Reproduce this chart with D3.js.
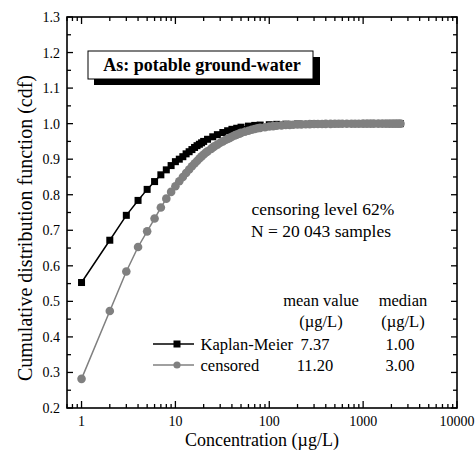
<!DOCTYPE html>
<html>
<head>
<meta charset="utf-8">
<script src="https://cdn.jsdelivr.net/npm/d3@7"></script>
<style>
  body { margin: 0; background: #fff; }
  text { font-family: "Liberation Serif", "Times New Roman", serif; }
</style>
</head>
<body>
<svg id="chart" width="475" height="453"></svg>
<script>
// ---- data ----
const kmConc = [1, 2, 3, 4, 5, 6, 7, 8, 9, 10, 11, 12, 13, 14, 15, 16, 17, 18, 19, 20,
  22, 25, 28, 32, 36, 40, 45, 50, 60, 70, 80, 100, 120, 150, 200, 300, 500, 1000, 2000, 2500];
const kmCdf = [0.553, 0.672, 0.742, 0.784, 0.815, 0.837, 0.856, 0.870, 0.882, 0.893, 0.900, 0.907,
  0.915, 0.921, 0.927, 0.933, 0.938, 0.942, 0.946, 0.950,
  0.956, 0.963, 0.969, 0.975, 0.980, 0.984, 0.987, 0.990, 0.993, 0.995, 0.996, 0.997, 0.998,
  0.9985, 0.999, 0.9995, 0.9997, 0.9999, 1.0, 1.0];

const censConc = [1, 2, 3, 4, 5, 6, 7, 8, 9, 10, 11, 12, 13, 14, 15, 16, 17, 18, 19, 20,
  21, 22, 24, 25, 26, 28, 30, 32, 34, 36, 38, 40, 43, 45, 48, 50, 55, 60, 65, 70, 75, 80, 90,
  100, 110, 120, 135, 150, 165, 180, 200, 220, 245, 270, 300, 330, 365, 400, 450, 500, 550,
  600, 670, 750, 820, 900, 1000, 1100, 1200, 1300, 1450, 1600, 1750, 1900, 2050, 2200, 2350, 2500];
const censCdf = [0.282, 0.473, 0.584, 0.653, 0.697, 0.733, 0.764, 0.789, 0.808, 0.824, 0.838, 0.850,
  0.861, 0.871, 0.880, 0.888, 0.895, 0.902, 0.908, 0.913,
  0.918, 0.922, 0.929, 0.933, 0.936, 0.941, 0.946, 0.950, 0.954, 0.957, 0.960, 0.963, 0.967,
  0.969, 0.972, 0.974, 0.977, 0.980, 0.983, 0.985, 0.987, 0.988, 0.990,
  0.992, 0.993, 0.994, 0.995, 0.996, 0.9965, 0.997, 0.9975, 0.998, 0.9983, 0.9985, 0.9988,
  0.999, 0.9991, 0.9993, 0.9994, 0.9995, 0.9996, 0.9996, 0.9997, 0.9997, 0.9998, 0.9998,
  0.9999, 0.9999, 0.9999, 0.9999, 1.0, 1.0, 1.0, 1.0, 1.0, 1.0, 1.0, 1.0];

const xTicks = [1, 10, 100, 1000, 10000];
const yTicks = [0.2, 0.3, 0.4, 0.5, 0.6, 0.7, 0.8, 0.9, 1.0, 1.1, 1.2, 1.3];

const tableHead = ["mean value", "median"];
const tableUnit = ["(µg/L)", "(µg/L)"];
const seriesNames = ["Kaplan-Meier", "censored"];
const meanVals = ["7.37", "11.20"];
const medianVals = ["1.00", "3.00"];

// ---- layout ----
const svg = d3.select("#chart");
const m = { left: 67, right: 457, top: 17, bottom: 408 };

const x = d3.scaleLog().domain([0.7, 10000]).range([m.left, m.right]);
const y = d3.scaleLinear().domain([0.2, 1.3]).range([m.bottom, m.top]);

// minor ticks
const xMinor = [];
[0.1, 1, 10, 100, 1000].forEach(dec => {
  for (let k = 2; k <= 9; k++) {
    const v = dec * k;
    if (v >= 0.7 && v <= 10000) xMinor.push(v);
  }
});
const yMinor = d3.range(0.25, 1.3, 0.1);

const g = svg.append("g");

// frame
g.append("rect")
  .attr("x", m.left).attr("y", m.top)
  .attr("width", m.right - m.left).attr("height", m.bottom - m.top)
  .attr("fill", "none").attr("stroke", "#000").attr("stroke-width", 1.6);

function tickLines(vals, len, axis) {
  vals.forEach(v => {
    if (axis === "x") {
      const px = x(v);
      g.append("line").attr("x1", px).attr("x2", px).attr("y1", m.bottom).attr("y2", m.bottom - len)
        .attr("stroke", "#000").attr("stroke-width", 1.3);
      g.append("line").attr("x1", px).attr("x2", px).attr("y1", m.top).attr("y2", m.top + len)
        .attr("stroke", "#000").attr("stroke-width", 1.3);
    } else {
      const py = y(v);
      g.append("line").attr("y1", py).attr("y2", py).attr("x1", m.left).attr("x2", m.left + len)
        .attr("stroke", "#000").attr("stroke-width", 1.3);
      g.append("line").attr("y1", py).attr("y2", py).attr("x1", m.right).attr("x2", m.right - len)
        .attr("stroke", "#000").attr("stroke-width", 1.3);
    }
  });
}
tickLines(xTicks, 7, "x");
tickLines(xMinor, 4, "x");
tickLines(yTicks, 6, "y");
tickLines(yMinor, 4, "y");

// tick labels
g.selectAll(".xl").data(xTicks).join("text")
  .attr("x", d => x(d)).attr("y", m.bottom + 18)
  .attr("text-anchor", "middle").attr("font-size", 14).text(d => d);
g.selectAll(".yl").data(yTicks).join("text")
  .attr("x", m.left - 7).attr("y", d => y(d) + 5)
  .attr("text-anchor", "end").attr("font-size", 14).text(d => d.toFixed(1));

// axis titles
svg.append("text").attr("x", 262).attr("y", 446).attr("text-anchor", "middle")
  .attr("font-size", 18).text("Concentration (µg/L)");
svg.append("text").attr("transform", "translate(32,228) rotate(-90)").attr("text-anchor", "middle")
  .attr("font-size", 20).text("Cumulative distribution function (cdf)");

// series
const km = kmConc.map((c, i) => [c, kmCdf[i]]);
const cens = censConc.map((c, i) => [c, censCdf[i]]);
const line = d3.line().x(d => x(d[0])).y(d => y(d[1]));

g.append("path").datum(km).attr("d", line).attr("fill", "none")
  .attr("stroke", "#000").attr("stroke-width", 1.5);
g.selectAll(".sq").data(km).join("rect")
  .attr("x", d => x(d[0]) - 3.5).attr("y", d => y(d[1]) - 3.5)
  .attr("width", 7).attr("height", 7).attr("fill", "#000");

g.append("path").datum(cens).attr("d", line).attr("fill", "none")
  .attr("stroke", "#808080").attr("stroke-width", 1.5);
g.selectAll(".ci").data(cens).join("circle")
  .attr("cx", d => x(d[0])).attr("cy", d => y(d[1])).attr("r", 4.3)
  .attr("fill", "#808080");

// title box with shadow
svg.append("rect").attr("x", 94).attr("y", 57).attr("width", 226).attr("height", 28).attr("fill", "#000");
svg.append("rect").attr("x", 88).attr("y", 51).attr("width", 225).attr("height", 28)
  .attr("fill", "#fff").attr("stroke", "#000").attr("stroke-width", 1);
svg.append("text").attr("x", 202).attr("y", 71).attr("text-anchor", "middle")
  .attr("font-size", 18).attr("font-weight", "bold").text("As: potable ground-water");

// annotations
svg.append("text").attr("x", 323).attr("y", 215).attr("text-anchor", "middle")
  .attr("font-size", 17.5).text("censoring level 62%");
svg.append("text").attr("x", 321).attr("y", 237).attr("text-anchor", "middle")
  .attr("font-size", 17.5).text("N = 20 043 samples");

// table
const headX = [321, 403];
const valX = [315, 400];
tableHead.forEach((t, i) => svg.append("text").attr("x", headX[i]).attr("y", 305.5)
  .attr("text-anchor", "middle").attr("font-size", 16.5).text(t));
tableUnit.forEach((t, i) => svg.append("text").attr("x", headX[i]).attr("y", 327)
  .attr("text-anchor", "middle").attr("font-size", 16.5).text(t));
const rowY = [344, 365];
seriesNames.forEach((name, i) => {
  svg.append("text").attr("x", 200.5).attr("y", rowY[i] + 5.5).attr("font-size", 16.5).text(name);
  svg.append("text").attr("x", valX[0]).attr("y", rowY[i] + 5.5).attr("text-anchor", "middle")
    .attr("font-size", 16.5).text(meanVals[i]);
  svg.append("text").attr("x", valX[1]).attr("y", rowY[i] + 5.5).attr("text-anchor", "middle")
    .attr("font-size", 16.5).text(medianVals[i]);
});

// legend symbols
const lg = svg.append("g");
lg.append("line").attr("x1", 153).attr("x2", 194).attr("y1", rowY[0]).attr("y2", rowY[0])
  .attr("stroke", "#000").attr("stroke-width", 1.6);
lg.append("rect").attr("x", 173.5).attr("y", rowY[0] - 3.5).attr("width", 7).attr("height", 7).attr("fill", "#000");
lg.append("line").attr("x1", 153).attr("x2", 194).attr("y1", rowY[1]).attr("y2", rowY[1])
  .attr("stroke", "#808080").attr("stroke-width", 1.6);
lg.append("circle").attr("cx", 177).attr("cy", rowY[1]).attr("r", 3.6).attr("fill", "#808080");
</script>
</body>
</html>
